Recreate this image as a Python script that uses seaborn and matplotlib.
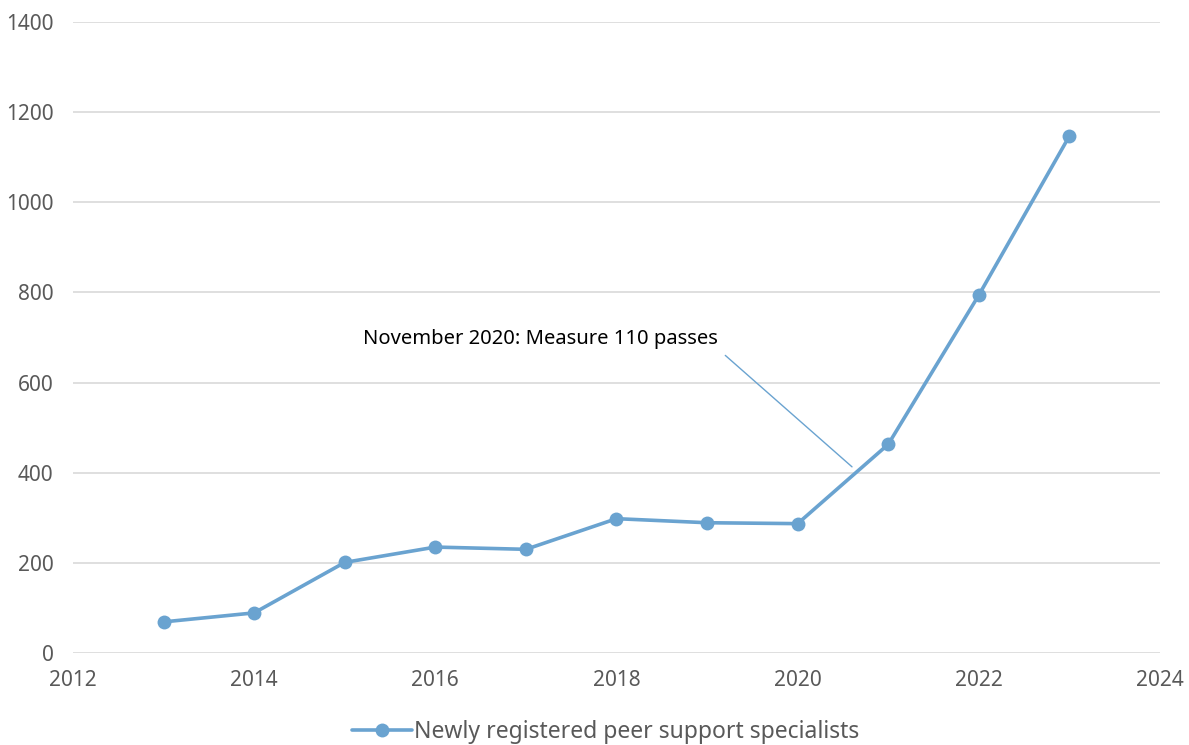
import pandas as pd
import numpy as np
import matplotlib.pyplot as plt
import seaborn as sns

sns.set_style('white')
plt.rcParams['font.family'] = ['Noto Sans', 'DejaVu Sans']

years  = [2013, 2014, 2015, 2016, 2017, 2018, 2019, 2020, 2021, 2022, 2023]
counts = [69, 89, 201, 235, 230, 298, 289, 287, 463, 794, 1147]
series_name = 'Newly registered peer support specialists'
note = 'November 2020: Measure 110 passes'

df = pd.DataFrame({'year': years, 'count': counts, 'series': series_name})

blue = '#6aa3d0'
grey = '#595959'

fig = plt.figure(figsize=(11.89, 7.45), dpi=100)
ax = fig.add_axes([0.0614, 0.1235, 0.9142, 0.847])

sns.lineplot(data=df, x='year', y='count', hue='series', palette=[blue],
             marker='o', markersize=10, markeredgewidth=0, linewidth=2.6, ax=ax)

ax.set_xlim(2012, 2024)
ax.set_ylim(0, 1400)
ax.set_xticks(np.arange(2012, 2025, 2))
ax.set_yticks(np.arange(0, 1401, 200))
ax.yaxis.grid(True, color='#d9d9d9', linewidth=1.2)
ax.set_axisbelow(True)
for s in ax.spines.values():
    s.set_visible(False)
ax.tick_params(axis='both', length=0, labelsize=15, colors=grey)
ax.tick_params(axis='y', pad=14)
ax.tick_params(axis='x', pad=12)
ax.set_xlabel('')
ax.set_ylabel('')

ax.annotate(note, xy=(2020.6, 413), xytext=(2017.16, 697),
            ha='center', va='center', fontsize=14.5, color='black',
            arrowprops=dict(arrowstyle='-', color=blue, linewidth=1,
                            relpos=(1, 0), shrinkA=4, shrinkB=0))

leg = ax.legend(loc='center', bbox_to_anchor=(0.49, -0.125), frameon=False,
                fontsize=16.5, handlelength=2.6, handletextpad=0.1)
for t in leg.get_texts():
    t.set_color(grey)

plt.savefig('out.png', dpi=100)
